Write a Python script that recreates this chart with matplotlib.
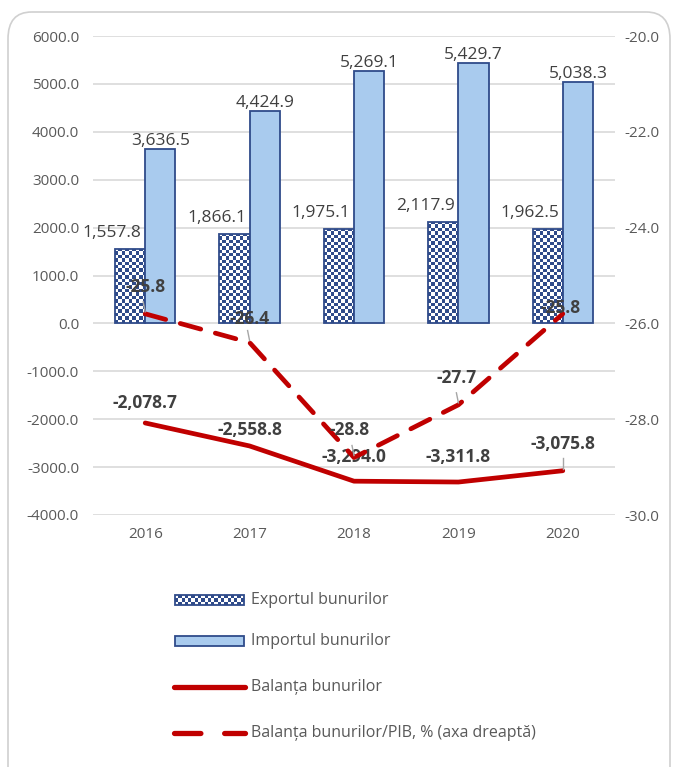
import numpy as np
import matplotlib.pyplot as plt
from matplotlib.patches import Rectangle, FancyBboxPatch
from matplotlib.colors import ListedColormap

plt.rcParams['font.family'] = ['Open Sans', 'DejaVu Sans']

# Data
years = ["2016", "2017", "2018", "2019", "2020"]
export = [1557.8, 1866.1, 1975.1, 2117.9, 1962.5]
imports = [3636.5, 4424.9, 5269.1, 5429.7, 5038.3]
balance = [-2078.7, -2558.8, -3294.0, -3311.8, -3075.8]
balance_gdp = [-25.8, -26.4, -28.8, -27.7, -25.8]

legend_labels = ["Exportul bunurilor", "Importul bunurilor",
                 "Balanța bunurilor", "Balanța bunurilor/PIB, % (axa dreaptă)"]

navy = "#2f4b8a"
light_blue = "#a9cbee"
red = "#c00000"
text_gray = "#595959"
label_gray = "#404040"
leader_gray = "#a6a6a6"

W, H = 675, 767
fig = plt.figure(figsize=(W / 100, H / 100), dpi=100)

# rounded frame around the whole chart
frame = FancyBboxPatch((8 / W, -0.05), (662 / W), 1.05 - 12 / H,
                       boxstyle="round,pad=0,rounding_size=0.035",
                       transform=fig.transFigure, facecolor="none",
                       edgecolor="#d0d0d0", linewidth=1.2, zorder=-1)
fig.patches.append(frame)

ax = fig.add_axes([93 / W, 1 - 515 / H, 522 / W, 479 / H])
ax.patch.set_alpha(0)
x = np.arange(len(years))
bw = 0.29
ppu = 479 / 10000      # pixels per unit, left axis
ppu2 = 479 / 10        # pixels per unit, right axis
px_per_cat = 522 / len(years)

checker = (np.indices((40, 9)).sum(axis=0) % 2).astype(float)
cmap = ListedColormap(["white", navy])

# export bars with checkerboard fill
for xi, v in zip(x, export):
    x0 = xi - bw
    rect = Rectangle((x0, 0), bw, v, facecolor="none", edgecolor=navy,
                     linewidth=1.3, zorder=3)
    ax.add_patch(rect)
    rows = int(round(v * ppu / (bw * px_per_cat / 9)))
    img = ax.imshow(checker[:rows], extent=(x0, x0 + bw, 0, v), cmap=cmap,
                    interpolation="nearest", aspect="auto", zorder=2)
    img.set_clip_path(rect)
    ax.text(xi - bw / 2 - 18 / px_per_cat, v + 16 / ppu, f"{v:,.1f}",
            ha="center", va="center", fontsize=12.5, color=label_gray,
            zorder=5)

ax.bar(x + bw / 2, imports, bw, color=light_blue, edgecolor=navy,
       linewidth=1.3, zorder=3)
for xi, v in zip(x, imports):
    ax.text(xi + bw / 2, v + 8 / ppu, f"{v:,.1f}", ha="center", va="center",
            fontsize=12.5, color=label_gray, zorder=5)

ax.plot(x, balance, color=red, linewidth=3.4, solid_capstyle="round",
        zorder=4)
bal_px = [20, 16, 24, 25, 27]
for xi, v, off in zip(x, balance, bal_px):
    ax.text(xi, v + off / ppu, f"{v:,.1f}", ha="center", va="center",
            fontsize=12.5, fontweight="bold", color=label_gray, zorder=5)
    if off > 26:
        ax.plot([xi, xi], [v + 2 / ppu, v + 13 / ppu], color=leader_gray,
                lw=1, zorder=5)

ax.set_xlim(-0.5, len(years) - 0.5)
ax.set_ylim(-4000, 6000)
ax.set_yticks(np.arange(-4000, 6001, 1000))
ax.yaxis.set_major_formatter(plt.FuncFormatter(lambda v, p: f"{v:.1f}"))
ax.set_xticks(x)
ax.set_xticklabels(years)
ax.tick_params(axis="both", length=0, labelsize=11, colors=text_gray)
ax.tick_params(axis="y", pad=10)
ax.tick_params(axis="x", pad=9)
ax.grid(axis="y", color="#d9d9d9", linewidth=1.2, zorder=0)
ax.set_axisbelow(True)
for s in ax.spines.values():
    s.set_visible(False)

ax2 = ax.twinx()
ax2.plot(x, balance_gdp, color=red, linewidth=3.4, linestyle=(0, (4.5, 3.2)),
         dash_capstyle="round", zorder=4)
ax2.set_ylim(-30, -20)
ax2.set_yticks(np.arange(-30, -19, 2))
ax2.yaxis.set_major_formatter(plt.FuncFormatter(lambda v, p: f"{v:.1f}"))
ax2.tick_params(axis="y", length=0, labelsize=11, colors=text_gray, pad=7)
for s in ax2.spines.values():
    s.set_visible(False)

gdp_px = [27, 24, 28, 27, 6]
gdp_dx = [0, 0, -4, -2, -2]
for xi, v, off, dx in zip(x, balance_gdp, gdp_px, gdp_dx):
    ax2.text(xi + dx / px_per_cat, v + off / ppu2, f"{v:.1f}", ha="center",
             va="center", fontsize=12.5, fontweight="bold", color=label_gray,
             zorder=6)
    if off > 20:
        ax2.plot([xi - 2 / px_per_cat, xi], [v + 2 / ppu2, v + 12 / ppu2][::-1],
                 color=leader_gray, lw=1, zorder=6)

# legend drawn in pixel coordinates
lax = fig.add_axes([0, 0, 1, 1])
lax.patch.set_alpha(0)
rows_y = [600, 641, 687, 733]

r0 = Rectangle((175, 595), 69, 10, facecolor="none", edgecolor=navy, lw=1.3,
               zorder=3)
lax.add_patch(r0)
leg_checker = (np.indices((3, 21)).sum(axis=0) % 2).astype(float)
im = lax.imshow(leg_checker, extent=(175, 244, 605, 595), cmap=cmap,
                interpolation="nearest", aspect="auto", zorder=2)
im.set_clip_path(r0)
lax.add_patch(Rectangle((175, 636), 69, 10, facecolor=light_blue,
                        edgecolor=navy, lw=1.3))
lax.plot([174, 245], [687, 687], color=red, lw=3.8, solid_capstyle="round")
lax.plot([174, 245], [733, 733], color=red, lw=3.8,
         linestyle=(0, (5, 4.5)), dash_capstyle="round")
for yy, lab in zip(rows_y, legend_labels):
    lax.text(251, yy, lab, ha="left", va="center", fontsize=11.5,
             color=text_gray)
lax.set_xlim(0, W)
lax.set_ylim(H, 0)
lax.axis("off")

fig.savefig("out.png", dpi=100)
